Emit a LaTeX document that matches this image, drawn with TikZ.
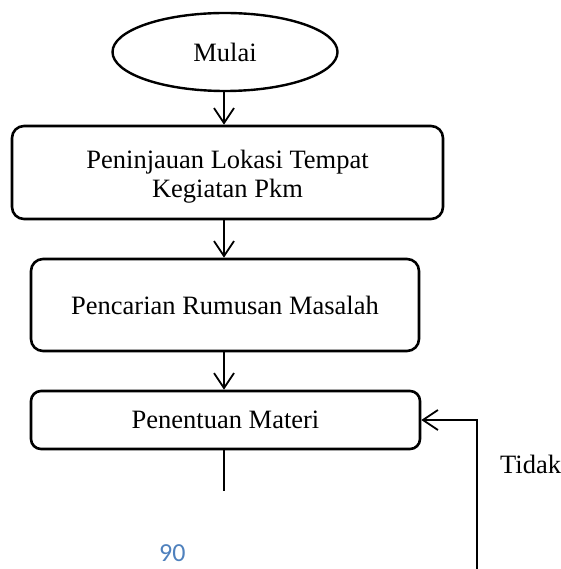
\documentclass[tikz,border=0pt]{standalone}
\usepackage{fontspec}
\setmainfont{Liberation Serif}
\newfontfamily\calibrifont{Carlito}
\usetikzlibrary{arrows.meta,shapes.geometric}
\definecolor{pagenum}{HTML}{4F81BD}
\tikzset{
  boxshape/.style={draw, line width=2.6pt, rounded corners=12pt, inner sep=0pt},
  startshape/.style={draw, ellipse, line width=2.4pt, inner sep=0pt, minimum width=225pt, minimum height=78pt},
  conn/.style={line width=1.8pt, -{Straight Barb[length=15pt,width=20pt,line width=1.8pt]}},
  plainline/.style={line width=1.8pt},
  lbl/.style={font=\fontsize{26.5}{29}\selectfont, inner sep=0pt, align=center}
}
\begin{document}
\begin{tikzpicture}[x=1pt,y=-1pt]
\useasboundingbox (0,0) rectangle (560,569);
\node[startshape, lbl] (mulai) at (225,52) {Mulai};
\node[boxshape, minimum width=431pt, minimum height=93pt] (b1) at (227.5,172.5) {};
\node[lbl] (t1) at (227.5,176.5) {Peninjauan Lokasi Tempat\\Kegiatan Pkm};
\node[boxshape, lbl, minimum width=388pt, minimum height=92pt] (b2) at (225,305) {Pencarian Rumusan Masalah};
\node[boxshape, lbl, rounded corners=10pt, minimum width=389pt, minimum height=58pt] (b3) at (225.5,420) {Penentuan Materi};
\node[lbl, anchor=base west] (tidak) at (500,473) {Tidak};
\node[font=\calibrifont\fontsize{26}{30}\selectfont, text=pagenum, inner sep=0pt, anchor=base west] (pg) at (159,561) {90};
\coordinate (x0) at (224,0);
\coordinate (e3) at (224,491);
\coordinate (fb) at (477,569);
\draw[conn] (x0 |- mulai.south) -- (x0 |- b1.north);
\draw[conn] (x0 |- b1.south) -- (x0 |- b2.north);
\draw[conn] (x0 |- b2.south) -- (x0 |- b3.north);
\draw[plainline] (x0 |- b3.south) -- (e3);
\draw[conn] (fb) |- (b3.east);
\end{tikzpicture}
\end{document}
